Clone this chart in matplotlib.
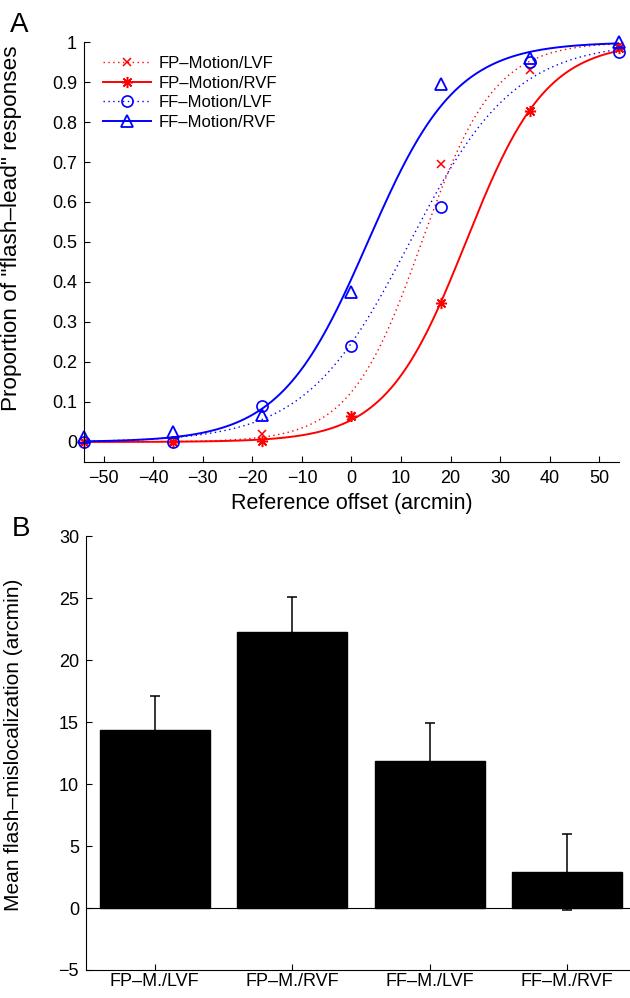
import numpy as np
import matplotlib
matplotlib.use("Agg")
import matplotlib.pyplot as plt

plt.rcParams['font.family'] = ['Liberation Sans', 'DejaVu Sans']

# Panel A: proportion of "flash-lead" responses
offsets = [-54, -36, -18, 0, 18, 36, 54]
fp_lvf = [0.0, 0.0, 0.02, 0.065, 0.695, 0.93, 0.99]
fp_rvf = [0.0, 0.0, 0.003, 0.066, 0.347, 0.828, 0.985]
ff_lvf = [0.0, 0.0, 0.089, 0.24, 0.588, 0.95, 0.974]
ff_rvf = [0.012, 0.024, 0.067, 0.376, 0.895, 0.96, 1.0]
# fitted logistic parameters (PSE, spread) for each condition
fit_pse = [14.2, 23.1, 11.8, 3.3]
fit_spread = [7.3, 8.13, 10.6, 8.9]

series_names = ['FP\u2013Motion/LVF', 'FP\u2013Motion/RVF', 'FF\u2013Motion/LVF', 'FF\u2013Motion/RVF']

# Panel B: mean flash mislocalization
bar_labels = ['FP\u2013M./LVF', 'FP\u2013M./RVF', 'FF\u2013M./LVF', 'FF\u2013M./RVF']
bar_means = [14.35, 22.3, 11.9, 2.93]
bar_errs = [2.75, 2.8, 3.05, 3.05]

fig = plt.figure(figsize=(6.3, 9.98), dpi=100)

ax1 = fig.add_axes([0.1333, 0.5371, 0.8492, 0.4208])
styles = [
    dict(color='red', ls=(0, (1, 2.5)), marker='x', ms=6, mew=1.1),
    dict(color='red', ls='-', marker=(8, 2, 0), ms=8, mew=1.1),
    dict(color='blue', ls=(0, (1, 2.5)), marker='o', ms=8, mew=1.2, mfc='none'),
    dict(color='blue', ls='-', marker='^', ms=9, mew=1.3, mfc='none'),
]
data = [fp_lvf, fp_rvf, ff_lvf, ff_rvf]
xx = np.linspace(-54, 54, 400)
for name, ys, mu, s, st in zip(series_names, data, fit_pse, fit_spread, styles):
    yy = 1.0 / (1.0 + np.exp(-(xx - mu) / s))
    lw = 1.0 if st['ls'] != '-' else 1.4
    ax1.plot(xx, yy, color=st['color'], ls=st['ls'], lw=lw)
    ax1.plot(offsets, ys, ls='none', color=st['color'], marker=st['marker'],
             ms=st['ms'], mew=st['mew'], mfc=st.get('mfc', st['color']), clip_on=False)
    ax1.plot([], [], color=st['color'], ls=st['ls'], lw=lw, marker=st['marker'],
             ms=st['ms'], mew=st['mew'], mfc=st.get('mfc', st['color']), label=name)

ax1.set_xlim(-54, 54)
ax1.set_ylim(-0.05, 1)
ax1.set_xticks(np.arange(-50, 51, 10))
ax1.set_yticks(np.arange(0, 1.01, 0.1))
ax1.set_yticklabels(['0'] + ['%.1f' % v for v in np.arange(0.1, 0.95, 0.1)] + ['1'])
ax1.set_xlabel('Reference offset (arcmin)', fontsize=15.5, labelpad=4)
ax1.set_ylabel('Proportion of "flash\u2013lead" responses', fontsize=16.2)
ax1.yaxis.set_label_coords(-0.116, 0.556)
ax1.legend(loc='upper left', bbox_to_anchor=(0.035, 0.966), frameon=False,
           fontsize=12, handlelength=2.9, handletextpad=0.45, labelspacing=0.27,
           borderpad=0, borderaxespad=0)

ax2 = fig.add_axes([0.1365, 0.0281, 0.873, 0.4344])
pos = np.arange(1, len(bar_means) + 1)
ax2.bar(pos, bar_means, width=0.8, color='black', edgecolor='black', zorder=2)
ax2.errorbar(pos, bar_means, yerr=bar_errs, fmt='none', ecolor='black',
             elinewidth=1.1, capsize=3.5, capthick=1.1, zorder=3)
ax2.axhline(0, color='black', lw=0.8, zorder=1)
ax2.set_xlim(0.5, 4.5)
ax2.set_ylim(-5, 30)
ax2.set_xticks(pos)
ax2.set_xticklabels(bar_labels)
ax2.set_yticks(np.arange(-5, 31, 5))
ax2.set_ylabel('Mean flash\u2013mislocalization (arcmin)', fontsize=15)
ax2.yaxis.set_label_coords(-0.1145, 0.519)

for ax in (ax1, ax2):
    ax.spines['top'].set_visible(False)
    ax.spines['right'].set_visible(False)
    for sp in ('left', 'bottom'):
        ax.spines[sp].set_linewidth(0.8)
    ax.tick_params(direction='in', length=4, width=0.8, labelsize=13, pad=5)
ax1.tick_params(axis='x', pad=6)
ax2.tick_params(axis='x', pad=2.5)

fig.text(0.016, 0.975, 'A', fontsize=20, va='center', ha='left')
fig.text(0.018, 0.470, 'B', fontsize=20, va='center', ha='left')

fig.savefig('out.png', dpi=100)
